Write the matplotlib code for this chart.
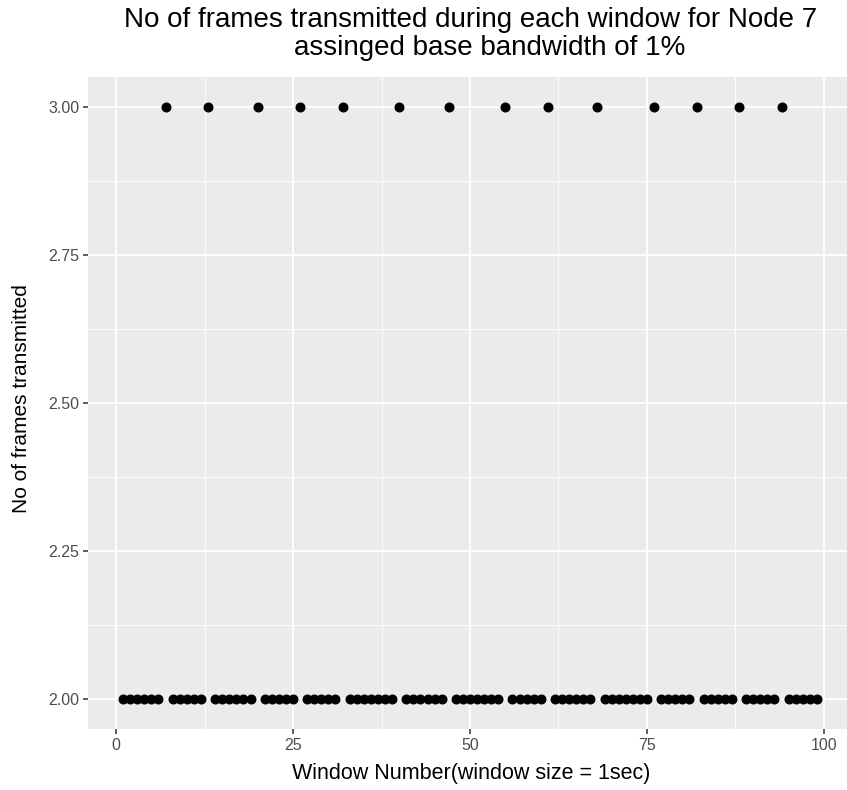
import matplotlib
matplotlib.use("Agg")
import matplotlib.pyplot as plt
import numpy as np

windows = list(range(1, 100))
three_windows = [7, 13, 20, 26, 32, 40, 47, 55, 61, 68, 76, 82, 88, 94]
frames = [3 if w in three_windows else 2 for w in windows]

x_ticks = [0, 25, 50, 75, 100]
x_tick_labels = ["0", "25", "50", "75", "100"]
y_ticks = [2.00, 2.25, 2.50, 2.75, 3.00]
y_tick_labels = ["2.00", "2.25", "2.50", "2.75", "3.00"]

plt.rcParams['font.family'] = ['Liberation Sans', 'DejaVu Sans']

W, H = 847, 790
fig = plt.figure(figsize=(W / 100, H / 100), dpi=100)
left, right, top, bottom = 88.4, 851.6, 77.4, 728.6
ax = fig.add_axes([left / W, 1 - bottom / H, (right - left) / W, (bottom - top) / H])
ax.set_facecolor("#EBEBEB")

xr = 99 - 1
ax.set_xlim(1 - 0.05 * xr, 99 + 0.05 * xr)
ax.set_ylim(1.95, 3.05)

ax.set_xticks(x_ticks)
ax.set_xticklabels(x_tick_labels)
ax.set_yticks(y_ticks)
ax.set_yticklabels(y_tick_labels)
ax.set_xticks([12.5, 37.5, 62.5, 87.5], minor=True)
ax.set_yticks([2.125, 2.375, 2.625, 2.875], minor=True)

ax.grid(which="major", color="white", linewidth=1.3)
ax.grid(which="minor", color="white", linewidth=0.6)
ax.set_axisbelow(True)
for s in ax.spines.values():
    s.set_visible(False)
ax.tick_params(which="major", length=3.5, width=1.1, color="#333333",
               labelcolor="#4D4D4D", labelsize=11.5, pad=3)
ax.tick_params(which="minor", length=0)

ax.scatter(windows, frames, s=52, color="black", zorder=3, linewidths=0)

fig.text(471 / W, 1 - 773 / H, "Window Number(window size = 1sec)",
         ha="center", va="center", fontsize=15.5, color="black")
fig.text(22 / W, 1 - 399 / H, "No of frames transmitted",
         ha="center", va="center", rotation=90, fontsize=15, color="black")

fig.text(471 / W, 1 - 20 / H,
         "No of frames transmitted during each window for Node 7",
         ha="center", va="center", fontsize=20, color="black")
fig.text(490 / W, 1 - 48 / H,
         "assinged base bandwidth of 1%",
         ha="center", va="center", fontsize=20, color="black")

fig.savefig("out.png", dpi=100)
